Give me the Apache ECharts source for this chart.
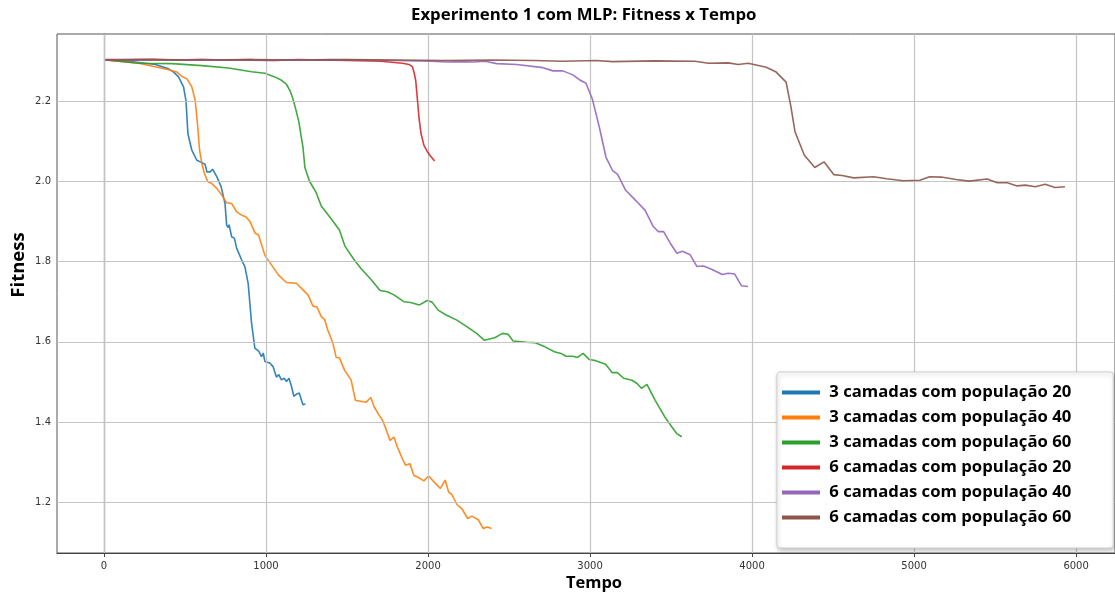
<!DOCTYPE html>
<html><head><meta charset="utf-8">
<script src="https://cdn.jsdelivr.net/npm/echarts@6/dist/echarts.min.js"></script>
<style>html,body{margin:0;padding:0;background:#fff}#c{width:1115px;height:596px}</style>
</head><body><div id="c"></div>
<script>
const titleText = 'Experimento 1 com MLP: Fitness x Tempo';
const xName = 'Tempo';
const yName = 'Fitness';
const seriesNames = ['3 camadas com população 20','3 camadas com população 40','3 camadas com população 60','6 camadas com população 20','6 camadas com população 40','6 camadas com população 60'];
const colors = ['#1f77b4','#ff7f0e','#2ca02c','#d62728','#9467bd','#8c564b'];
const tempoTicks = [0,1000,2000,3000,4000,5000,6000];
const fitnessTicks = [1.2,1.4,1.6,1.8,2.0,2.2];

const s3c20 = [[10,2.303],[153,2.300],[317,2.292],[399,2.281],[430,2.273],[460,2.261],[491,2.236],[506,2.202],[518,2.119],[542,2.078],[573,2.053],[604,2.047],[624,2.043],[635,2.024],[655,2.024],[671,2.030],[696,2.012],[723,1.987],[737,1.962],[747,1.945],[757,1.891],[766,1.885],[772,1.892],[788,1.862],[805,1.858],[819,1.833],[850,1.804],[870,1.787],[890,1.745],[911,1.646],[931,1.584],[956,1.576],[972,1.563],[983,1.572],[993,1.551],[1023,1.547],[1044,1.538],[1064,1.512],[1079,1.518],[1095,1.505],[1112,1.509],[1126,1.501],[1142,1.509],[1157,1.489],[1172,1.464],[1190,1.470],[1205,1.472],[1228,1.443],[1243,1.445]];
const s3c40 = [[10,2.303],[215,2.295],[399,2.279],[450,2.273],[481,2.262],[512,2.256],[542,2.236],[563,2.202],[577,2.144],[590,2.078],[604,2.045],[620,2.020],[641,1.999],[665,1.995],[696,1.983],[727,1.966],[757,1.947],[788,1.945],[819,1.924],[850,1.916],[875,1.912],[901,1.900],[933,1.871],[953,1.867],[994,1.815],[1034,1.792],[1076,1.767],[1126,1.748],[1187,1.746],[1218,1.734],[1259,1.717],[1290,1.689],[1314,1.687],[1341,1.663],[1361,1.656],[1382,1.628],[1412,1.598],[1433,1.561],[1453,1.560],[1486,1.528],[1525,1.505],[1552,1.454],[1616,1.449],[1647,1.461],[1667,1.438],[1698,1.417],[1718,1.405],[1739,1.384],[1765,1.354],[1790,1.362],[1810,1.338],[1841,1.309],[1861,1.292],[1888,1.296],[1912,1.267],[1943,1.261],[1974,1.253],[2004,1.265],[2031,1.253],[2076,1.234],[2106,1.255],[2127,1.225],[2147,1.219],[2178,1.194],[2208,1.184],[2245,1.159],[2270,1.165],[2310,1.156],[2341,1.134],[2365,1.138],[2392,1.134]];
const s3c60 = [[10,2.303],[215,2.295],[420,2.294],[604,2.289],[768,2.283],[911,2.274],[993,2.270],[1054,2.261],[1090,2.254],[1127,2.242],[1150,2.225],[1167,2.205],[1185,2.178],[1202,2.150],[1228,2.086],[1240,2.035],[1269,2.000],[1310,1.972],[1341,1.939],[1402,1.907],[1453,1.879],[1488,1.838],[1545,1.804],[1586,1.783],[1647,1.756],[1704,1.728],[1749,1.725],[1790,1.717],[1851,1.700],[1892,1.698],[1947,1.692],[1995,1.703],[2025,1.699],[2062,1.679],[2112,1.667],[2178,1.654],[2239,1.638],[2300,1.621],[2347,1.604],[2412,1.610],[2459,1.621],[2494,1.619],[2525,1.602],[2606,1.599],[2657,1.598],[2719,1.588],[2780,1.575],[2821,1.571],[2851,1.564],[2892,1.564],[2923,1.561],[2957,1.571],[2994,1.556],[3035,1.553],[3096,1.544],[3137,1.523],[3168,1.523],[3208,1.509],[3259,1.504],[3290,1.496],[3317,1.484],[3351,1.494],[3402,1.454],[3464,1.411],[3504,1.388],[3535,1.371],[3566,1.363]];
const s6c20 = [[10,2.304],[150,2.304],[300,2.305],[450,2.303],[600,2.304],[750,2.303],[900,2.304],[1050,2.302],[1200,2.304],[1350,2.303],[1500,2.302],[1650,2.301],[1709,2.300],[1791,2.297],[1842,2.295],[1883,2.292],[1904,2.286],[1915,2.270],[1924,2.252],[1935,2.202],[1945,2.156],[1957,2.119],[1975,2.090],[1995,2.075],[2016,2.063],[2041,2.051]];
const s6c40 = [[10,2.303],[200,2.304],[400,2.303],[600,2.304],[800,2.303],[1000,2.302],[1200,2.303],[1400,2.304],[1600,2.303],[1800,2.302],[2016,2.300],[2118,2.298],[2200,2.299],[2282,2.298],[2353,2.300],[2424,2.294],[2547,2.292],[2710,2.284],[2771,2.276],[2832,2.276],[2894,2.266],[2934,2.254],[2975,2.245],[3014,2.206],[3057,2.136],[3098,2.061],[3138,2.028],[3170,2.018],[3220,1.978],[3281,1.953],[3340,1.928],[3388,1.889],[3420,1.875],[3454,1.875],[3495,1.846],[3536,1.821],[3570,1.826],[3618,1.817],[3659,1.788],[3700,1.789],[3750,1.781],[3816,1.768],[3852,1.771],[3893,1.769],[3934,1.740],[3975,1.738]];
const s6c60 = [[10,2.303],[300,2.304],[600,2.303],[900,2.304],[1200,2.303],[1500,2.304],[1800,2.303],[2100,2.302],[2400,2.303],[2650,2.302],[2832,2.300],[3036,2.302],[3138,2.299],[3400,2.301],[3648,2.300],[3731,2.295],[3853,2.296],[3914,2.292],[3976,2.295],[4088,2.285],[4149,2.273],[4210,2.248],[4240,2.186],[4265,2.124],[4322,2.066],[4387,2.035],[4444,2.049],[4505,2.017],[4556,2.015],[4627,2.009],[4750,2.012],[4831,2.007],[4933,2.002],[5035,2.003],[5096,2.012],[5167,2.011],[5259,2.005],[5340,2.001],[5452,2.006],[5513,1.997],[5575,1.997],[5636,1.989],[5687,1.991],[5748,1.987],[5809,1.993],[5870,1.985],[5931,1.987]];

const allData = [s3c20, s3c40, s3c60, s6c20, s6c40, s6c60];

const chart = echarts.init(document.getElementById('c'), null, {renderer: 'canvas'});
const gridLineData = tempoTicks.map(v => ({xAxis: v})).concat(fitnessTicks.map(v => ({yAxis: v})));

const series = [{
  name: '_grid', type: 'line', data: [[0, 2.3]], symbol: 'none', silent: true, z: 1,
  lineStyle: {width: 0, opacity: 0},
  markLine: {silent: true, symbol: ['none','none'], animation: false, label: {show: false},
    lineStyle: {color: '#c4c4c4', width: 1.2, type: 'solid'}, emphasis: {disabled: true}, data: gridLineData}
}].concat(allData.map((d, i) => ({
  name: seriesNames[i], type: 'line', data: d, symbol: 'none', z: 2 + i,
  lineStyle: {width: 1.6, color: colors[i], opacity: 0.9}, itemStyle: {color: colors[i]}
})));

const boldFont = 'Open Sans';

chart.setOption({
  animation: false,
  title: {text: titleText, left: 406, top: 2,
    textStyle: {fontFamily: boldFont, fontWeight: 'bold', fontSize: 16.8, color: '#000'}},
  graphic: [
    {type: 'text', x: 18.5, y: 265, rotation: Math.PI / 2, z: 10,
      style: {text: yName, fontFamily: boldFont, fontWeight: 'bold', fontSize: 18.5, fill: '#000', align: 'center', verticalAlign: 'middle'}},
    {type: 'text', x: 594, y: 583, z: 10,
      style: {text: xName, fontFamily: boldFont, fontWeight: 'bold', fontSize: 16.5, fill: '#000', align: 'center', verticalAlign: 'middle'}}
  ],
  grid: {left: 57, top: 34, width: 1068, height: 519, show: true, borderColor: '#555', borderWidth: 1, backgroundColor: 'transparent'},
  xAxis: {type: 'value', min: -290, max: 6240,
    axisLine: {show: true, lineStyle: {color: '#444', width: 1.2}},
    axisTick: {show: true, length: 4, lineStyle: {color: '#444'}, customValues: tempoTicks},
    axisLabel: {customValues: tempoTicks, margin: 8, fontFamily: 'DejaVu Sans', fontSize: 10, color: '#333',
      formatter: v => String(Math.round(v))},
    splitLine: {show: false}},
  yAxis: {type: 'value', min: 1.073, max: 2.368,
    axisLine: {show: true, lineStyle: {color: '#444', width: 1.2}},
    axisTick: {show: true, length: 4, lineStyle: {color: '#444'}, customValues: fitnessTicks},
    axisLabel: {customValues: fitnessTicks, margin: 6, fontFamily: 'DejaVu Sans', fontSize: 10, color: '#333',
      formatter: v => v.toFixed(1)},
    splitLine: {show: false}},
  legend: {data: seriesNames, orient: 'vertical', left: 777, top: 372, zlevel: 1, z: 20,
    icon: 'rect', itemWidth: 38, itemHeight: 4, itemGap: 0,
    formatter: n => ' ' + n,
    padding: [8, 42, 18, 5],
    backgroundColor: '#fff', borderColor: '#cfcfcf', borderWidth: 1, borderRadius: 3,
    shadowBlur: 4, shadowColor: 'rgba(0,0,0,0.25)', shadowOffsetX: 1, shadowOffsetY: 2,
    textStyle: {fontFamily: boldFont, fontWeight: 'bold', fontSize: 16.7, color: '#000', lineHeight: 25}},
  series: series
});
</script></body></html>
